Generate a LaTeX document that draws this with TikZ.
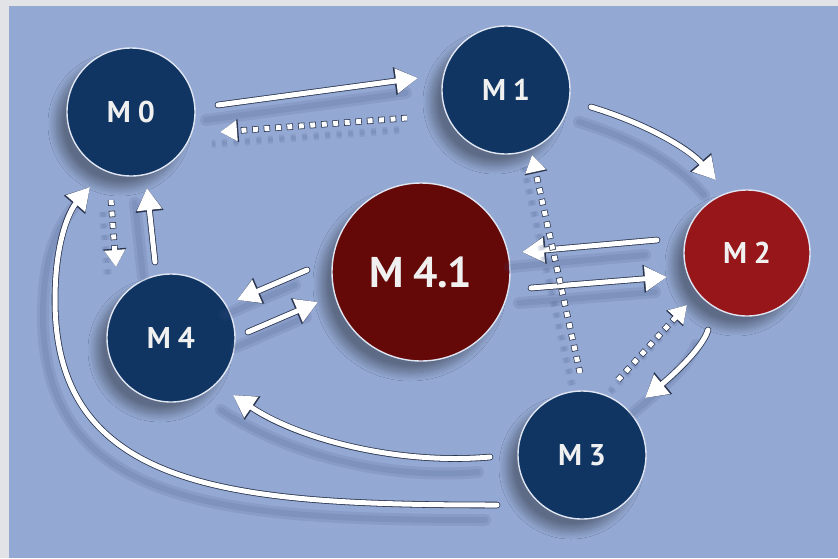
\documentclass[tikz,border=0pt]{standalone}
\usepackage{fontspec}
\setmainfont{PT Sans}
\usetikzlibrary{arrows.meta,calc,shadows.blur}
\definecolor{bg}{HTML}{93A8D2}
\definecolor{frame}{HTML}{E1E3E6}
\definecolor{navy}{HTML}{103562}
\definecolor{redtwo}{HTML}{96161A}
\definecolor{redbig}{HTML}{640808}
\definecolor{shad}{HTML}{3E5283}
\definecolor{edge}{HTML}{2A3550}
\begin{document}
\begin{tikzpicture}[x=1pt,y=-1pt,
  circbase/.style={circle, inner sep=0pt, draw=white!70!bg, line width=1.4pt,
    text=white!94!black,
    blur shadow={shadow xshift=-11pt, shadow yshift=-12pt, shadow blur radius=8pt, shadow blur steps=14, shadow opacity=36}},
  navycirc/.style={circbase, minimum size=128pt, fill=navy, font=\bfseries\fontsize{30}{30}\selectfont},
  redcirc/.style={circbase, minimum size=126pt, fill=redtwo, font=\bfseries\fontsize{30}{30}\selectfont},
  bigcirc/.style={circbase, minimum size=178pt, fill=redbig, font=\bfseries\fontsize{43}{43}\selectfont},
  shl/.style={arrows=-, draw=shad, draw opacity=0.13, line width=#1, line cap=round, transform canvas={shift={(-12pt,-15pt)}}},
  shd/.style={arrows=-, draw=shad, draw opacity=0.12, line width=#1, dash pattern=on 5pt off 6.5pt, transform canvas={shift={(-8pt,-12pt)}}},
  arrsolid/.style={draw=white, line width=5pt, line cap=round, -{Triangle[length=22pt,width=24pt]},
    preaction={shl=12pt}, preaction={shl=6pt},
    preaction={draw=edge, line width=6.6pt, line cap=round, -{Triangle[length=23.6pt,width=26.6pt]}}},
  arrdot/.style={draw=white, line width=5pt, dash pattern=on 5pt off 6.5pt, -{Triangle[length=17pt,width=20pt]},
    preaction={shd=8pt}, preaction={shd=4pt},
    preaction={draw=edge, line width=6.4pt, dash pattern=on 6.4pt off 5.1pt, dash phase=0.7pt, -{Triangle[length=18.4pt,width=22pt]}}}
]
\fill[frame] (0,0) rectangle (838,558);
\fill[bg] (9,6) rectangle (838,558);
\useasboundingbox (0,0) rectangle (838,558);

% nodes
\node[navycirc] (m0) at (131,112) {M\hspace{7pt}0};
\node[navycirc] (m1) at (506,90) {M\hspace{7pt}1};
\node[redcirc] (m2) at (747,253) {M\hspace{7pt}2};
\node[navycirc] (m3) at (582,455) {M\hspace{7pt}3};
\node[navycirc] (m4) at (171,338) {M\hspace{7pt}4};
\node[bigcirc] (m41) at (421,272) {M\hspace{9pt}4.1};

% connectors
\draw[arrsolid] ($(m0)+(87,-7)$) -- ($(m1)+(-88,-12)$);
\draw[arrdot] ($(m1)+(-99,28)$) -- ($(m0)+(89,20)$);
\draw[arrsolid] ($(m1)+(85,17)$) .. controls ($(m1)+(144,35)$) and ($(m2)+(-57,-103)$) .. ($(m2)+(-31,-73)$);
\draw[arrsolid] ($(m2)+(-90,-13)$) -- ($(m41)+(101,-20)$);
\draw[arrsolid] ($(m41)+(110,16)$) -- ($(m2)+(-80,24)$);
\draw[arrdot] ($(m3)+(-2,-82)$) -- ($(m1)+(26,65)$);
\draw[arrdot] ($(m3)+(36,-75)$) -- ($(m2)+(-60,52)$);
\draw[arrsolid] ($(m2)+(-39,77)$) .. controls ($(m2)+(-45,97)$) and ($(m3)+(85,-75)$) .. ($(m3)+(63,-57)$);
\draw[arrdot] ($(m0)+(-20,88)$) -- ($(m4)+(-55,-71)$);
\draw[arrsolid] ($(m4)+(-16,-76)$) -- ($(m0)+(16,76)$);
\draw[arrsolid] ($(m41)+(-114,-2)$) -- ($(m4)+(66,-38)$);
\draw[arrsolid] ($(m4)+(77,-6)$) -- ($(m41)+(-103,30)$);
\draw[arrsolid] ($(m3)+(-92,2)$) .. controls (400,465) and (300,440) .. ($(m4)+(62,57)$);
\draw[arrsolid] ($(m3)+(-85,50)$) .. controls (230,505) and (55,490) .. (55,300)
  .. controls (55,240) and (70,210) .. ($(m0)+(-41,75)$);
\end{tikzpicture}
\end{document}
